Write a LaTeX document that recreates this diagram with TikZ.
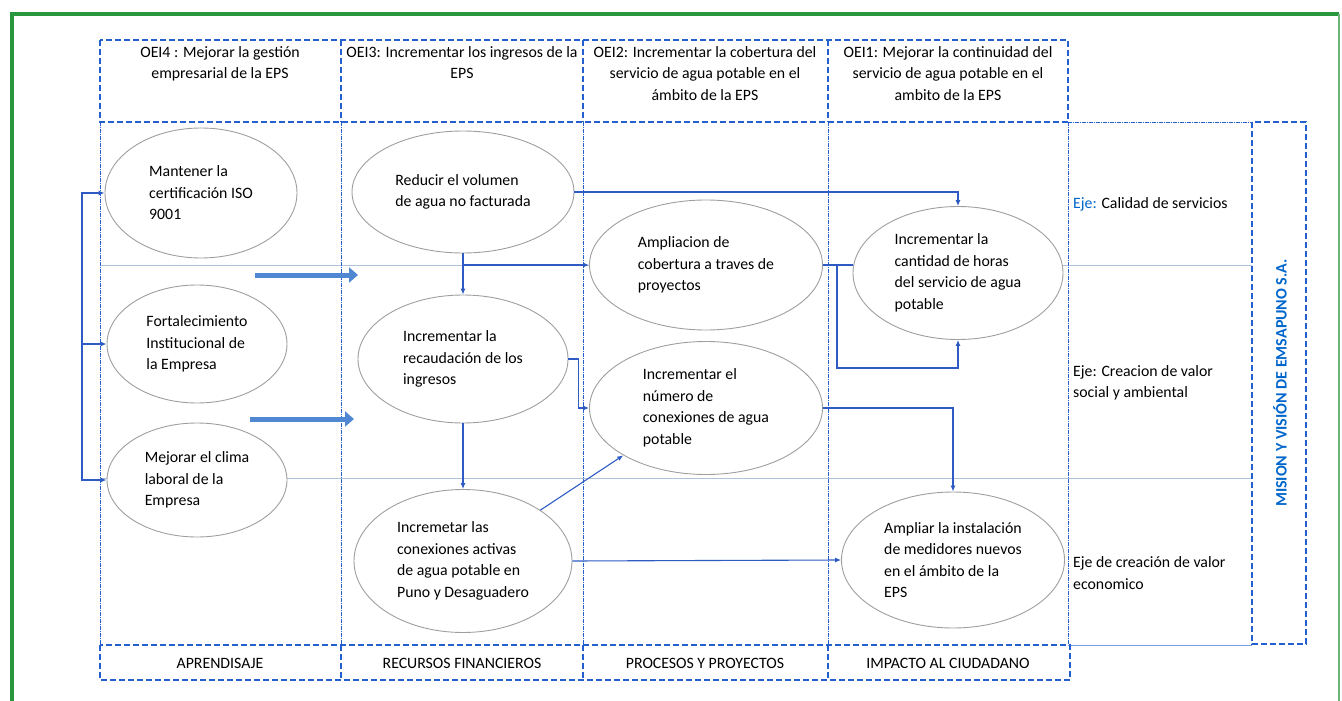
\documentclass[tikz,border=0pt]{standalone}
\usepackage{fontspec}
\setmainfont{Carlito}
\usepackage{xcolor}
\usetikzlibrary{arrows.meta,shapes.geometric,calc}

\definecolor{frameblue}{RGB}{35,95,205}
\definecolor{linkblue}{RGB}{45,90,195}
\definecolor{fatblue}{RGB}{80,135,210}
\definecolor{misionblue}{RGB}{0,102,204}
\definecolor{framegreen}{RGB}{40,150,60}
\definecolor{lanegray}{RGB}{175,195,220}

\newcommand{\diagfont}{\fontsize{15.8}{21.5}\selectfont}

\tikzset{
  goal/.style={ellipse,draw=gray!75,fill=white,line width=0.9pt,align=left,inner sep=0pt,font=\diagfont},
  link/.style={-{Latex[length=6pt,width=5pt]},color=linkblue,line width=1.1pt},
  fat/.style={-{Triangle[length=9pt,width=15pt]},color=fatblue,line width=5pt},
  headbox/.style={draw=frameblue,line width=1.5pt,dash pattern=on 6pt off 3pt},
  divline/.style={draw=frameblue,line width=0.9pt,dash pattern=on 4pt off 1pt on 1pt off 1pt},
  laneline/.style={draw=lanegray,line width=0.8pt},
  headtxt/.style={anchor=north,align=center,inner sep=0pt,font=\diagfont},
  ejetxt/.style={anchor=west,align=left,inner sep=0pt,font=\diagfont},
}

\begin{document}
\begin{tikzpicture}[x=1pt,y=-1pt]
  \useasboundingbox (0,0) rectangle (1342,701);
  % outer frame
  \draw[framegreen,line width=3.5pt] (12,705) -- (12,14) -- (1339,14);
  \draw[framegreen!70,line width=1.2pt] (1339,14) -- (1339,705);
  % columns, rows and lanes
  \draw[laneline] (100,265) -- (1252,265);
  \draw[laneline] (100,478) -- (1252,478);
  \foreach \x in {100,341,583,828,1068}
    \draw[divline] (\x,122) -- (\x,645);
  \draw[divline] (1068,122) -- (1252,122);
  \draw[laneline,draw=frameblue!60] (1068,645) -- (1252,645);
  \draw[headbox] (100,40) rectangle (1068,122);
  \draw[headbox] (100,645) rectangle (1070,680);
  \foreach \x in {341,583,828} {
    \draw[headbox] (\x,40) -- (\x,122);
    \draw[headbox] (\x,645) -- (\x,680);
  }
  \draw[headbox] (1252,122) rectangle (1306,644);

  \node[headtxt] (oei4) at (220,46) {OEI4 : Mejorar la gestión\\empresarial de la EPS};
  \node[headtxt] (oei3) at (462,46) {OEI3: Incrementar los ingresos de la\\EPS};
  \node[headtxt] (oei2) at (705,46) {OEI2: Incrementar la cobertura del\\servicio de agua potable en el\\ámbito de la EPS};
  \node[headtxt] (oei1) at (948,46) {OEI1: Mejorar la continuidad del\\servicio de agua potable en el\\ambito de la EPS};

  \node[font=\diagfont] (apr) at (220,663) {APRENDISAJE};
  \node[font=\diagfont] (rec) at (462,663) {RECURSOS FINANCIEROS};
  \node[font=\diagfont] (pro) at (705,663) {PROCESOS Y PROYECTOS};
  \node[font=\diagfont] (imp) at (948,663) {IMPACTO AL CIUDADANO};

  \node[ejetxt] (eje0) at (1073,204) {\textcolor{misionblue}{Eje:} Calidad de servicios};
  \node[ejetxt] (eje1) at (1073,383) {Eje: Creacion de valor\\social y ambiental};
  \node[ejetxt] (eje2) at (1073,573) {Eje de creación de valor\\economico};

  \node[rotate=90,font=\fontsize{16}{18}\selectfont\bfseries,text=misionblue] (mision) at (1280,383) {MISION Y VISIÓN DE EMSAPUNO S.A.};

  % objectives
  \node[goal,minimum width=192pt,minimum height=130pt] (a0) at (201,193) {Mantener la\\certificación ISO\\9001};
  \node[goal,minimum width=180pt,minimum height=118pt] (a1) at (197,344) {Fortalecimiento\\Institucional de\\la Empresa};
  \node[goal,minimum width=180pt,minimum height=114pt] (a2) at (197,480) {Mejorar el clima\\laboral de la\\Empresa};
  \node[goal,minimum width=222pt,minimum height=122pt] (r0) at (463,192) {Reducir el volumen\\de agua no facturada};
  \node[goal,minimum width=210pt,minimum height=128pt] (r1) at (463,359) {Incrementar la\\recaudación de los\\ingresos};
  \node[goal,minimum width=218pt,minimum height=143pt] (r2) at (463,561) {Incremetar las\\conexiones activas\\de agua potable en\\Puno y Desaguadero};
  \node[goal,minimum width=233pt,minimum height=130pt] (p0) at (706,265) {Ampliacion de\\cobertura a traves de\\proyectos};
  \node[goal,minimum width=233pt,minimum height=133pt] (p1) at (706,408) {Incrementar el\\número de\\conexiones de agua\\potable};
  \node[goal,minimum width=210pt,minimum height=133pt] (c0) at (958,273) {Incrementar la\\cantidad de horas\\del servicio de agua\\potable};
  \node[goal,minimum width=223pt,minimum height=136pt] (c1) at (953,560) {Ampliar la instalación\\de medidores nuevos\\en el ámbito de la\\EPS};

  % links
  \coordinate (trunk) at (82,344);
  \draw[link] (trunk) |- (a0.west);
  \draw[link] (trunk) -- (a1.west);
  \draw[link] (trunk) |- (a2.west);
  \coordinate (fork) at (r0.south |- p0.west);
  \path[link]
    (r0.south) edge (r1.north)
    (fork) edge (p0.west)
    (r1.south) edge (r2.north)
    (r2.north east) edge (p1.south west)
    (r2.east) edge (c1.west)
    ;
  \draw[link] (r0.east) -| (c0.north);
  \draw[link] (r1.east) -- ++(10,0) |- (p1.west);
  \draw[link] (p0.east) -- ++(14,0) |- ([yshift=-28pt]c0.south) -- (c0.south);
  \draw[link,-] (p0.east) -- (p0.east -| c0.west);
  \draw[link] (p1.east) -| (c1.north);

  % wide arrows
  \coordinate (w0) at (255,275);
  \coordinate (w1) at (358,275);
  \coordinate (w2) at (250,419);
  \coordinate (w3) at (354,419);
  \draw[fat] (w0) -- (w1);
  \draw[fat] (w2) -- (w3);
\end{tikzpicture}
\end{document}
